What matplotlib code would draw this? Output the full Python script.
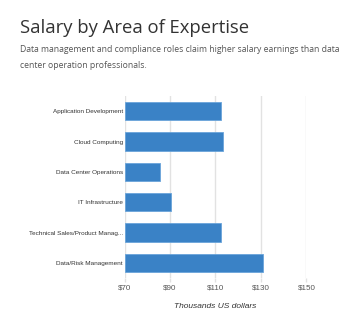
"""
Horizontal bar chart of salary by area of expertise.
"""

import matplotlib
matplotlib.use("Agg")
import matplotlib.pyplot as plt

# data (thousands of US dollars)
areas = [
    "Application Development",
    "Cloud Computing",
    "Data Center Operations",
    "IT Infrastructure",
    "Technical Sales/Product Manag...",
    "Data/Risk Management",
]
salaries = [112.3, 113.2, 85.6, 90.6, 112.3, 131.0]
ticks = [70, 90, 110, 130, 150]
tick_labels = ["$70", "$90", "$110", "$130", "$150"]

fig = plt.figure(figsize=(3.58, 3.25), dpi=100)
fig.patch.set_facecolor("white")

fig.text(0.055, 0.915, "Salary by Area of Expertise", fontsize=13.3,
         family="Open Sans", color="#333333", va="center")
fig.text(0.057, 0.822,
         "Data management and compliance roles claim higher salary earnings than data\n"
         "center operation professionals.",
         fontsize=6.2, family="Open Sans", color="#555555", va="center",
         linespacing=2.0)

ax = fig.add_axes([0.3478, 0.1446, 0.508, 0.56])
ypos = list(range(len(areas)))
ax.barh(ypos, [s - 70 for s in salaries], left=70, height=0.6,
        color="#3a82c6", edgecolor="#6aa4da", linewidth=0.6, zorder=3)

ax.set_xlim(70, 150)
ax.set_ylim(len(areas) - 0.5, -0.5)
ax.set_xticks(ticks)
ax.set_xticklabels(tick_labels, family="Liberation Sans", fontsize=5.8, color="#555555")
ax.set_yticks(ypos)
ax.set_yticklabels(areas, family="Liberation Sans", fontsize=4.6, color="#333333")
ax.tick_params(axis="y", length=0, pad=1)
ax.tick_params(axis="x", length=3, width=1.0, color="#e2e2e2", pad=2)

ax.grid(axis="x", color="#e2e2e2", linewidth=1.0, zorder=0)
for side in ax.spines.values():
    side.set_visible(False)

ax.set_xlabel("Thousands US dollars", family="Liberation Sans", fontsize=6,
              style="italic", color="#333333", labelpad=8)

fig.savefig("out.png", dpi=100, facecolor="white")
